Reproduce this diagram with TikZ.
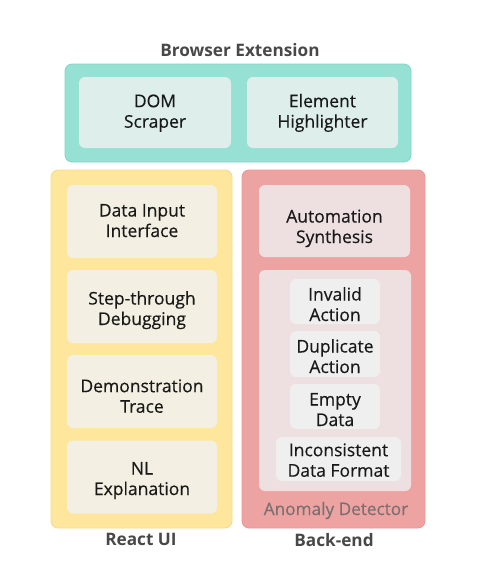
\documentclass[tikz,border=0pt]{standalone}
\usepackage{fontspec}
\setmainfont{Open Sans}
\newfontfamily\boxfont{Open Sans}[FakeBold=0.35]
\usepackage{tikz}

\definecolor{tealbg}{HTML}{96E1D4}
\definecolor{tealline}{HTML}{7FD8C6}
\definecolor{tealbox}{HTML}{DDEEEB}
\definecolor{yellowbg}{HTML}{FEE69D}
\definecolor{yellowline}{HTML}{F9D98A}
\definecolor{yellowbox}{HTML}{F3EFE2}
\definecolor{redbg}{HTML}{EEA3A3}
\definecolor{redline}{HTML}{E89898}
\definecolor{redbox}{HTML}{EEE0E0}
\definecolor{greybox}{HTML}{EFEFEF}
\definecolor{titlegrey}{HTML}{484848}
\definecolor{labelgrey}{HTML}{7A7070}

\tikzset{
    group/.style={draw, line width=0.8pt, rounded corners=7pt, inner sep=0pt},
    item/.style={rounded corners=6pt, inner sep=0pt},
    txt/.style={anchor=base, align=center, inner sep=0pt, text=black!90,
        font=\boxfont\fontsize{17.5}{20.5}\selectfont},
    title/.style={anchor=base, text=titlegrey, font=\fontsize{17.2}{20}\selectfont\bfseries}
}

\begin{document}
\begin{tikzpicture}[x=1pt, y=-1pt]
    \useasboundingbox (0,0) rectangle (480,568);

    % Extensio del navegador
    \node[title] (extTitle) at (240,56) {Browser Extension};
    \node[group, draw=tealline, fill=tealbg, minimum width=346pt, minimum height=98pt] (ext) at (238,113) {};
    \node[item, fill=tealbox, minimum width=152pt, minimum height=71pt] (dom) at (155,112.5) {};
    \node[txt] (domText) at (155,127.7) {DOM\\Scraper};
    \node[item, fill=tealbox, minimum width=151pt, minimum height=71pt] (hl) at (322.5,112.5) {};
    \node[txt] (hlText) at (322.5,127.7) {Element\\Highlighter};

    % Interficie React
    \node[group, draw=yellowline, fill=yellowbg, minimum width=181pt, minimum height=358pt] (ui) at (141.5,349) {};
    \node[item, fill=yellowbox, minimum width=150pt, minimum height=73pt] (input) at (142,221.5) {};
    \node[txt] (inputText) at (142,237) {Data Input\\Interface};
    \node[item, fill=yellowbox, minimum width=150pt, minimum height=73pt] (debug) at (142,306.5) {};
    \node[txt] (debugText) at (142,325) {Step-through\\Debugging};
    \node[item, fill=yellowbox, minimum width=150pt, minimum height=73pt] (trace) at (142,391.5) {};
    \node[txt] (traceText) at (142,412.7) {Demonstration\\Trace};
    \node[item, fill=yellowbox, minimum width=150pt, minimum height=73pt] (nlexp) at (142,477) {};
    \node[txt] (nlexpText) at (142,495) {NL\\Explanation};
    \node[title] (uiTitle) at (141,545.7) {React UI};

    % Servidor
    \node[group, draw=redline, fill=redbg, minimum width=183pt, minimum height=358pt] (back) at (333.5,349) {};
    \node[item, fill=redbox, minimum width=151pt, minimum height=72pt] (synth) at (334.5,221) {};
    \node[txt] (synthText) at (334.5,243) {Automation\\Synthesis};
    \node[item, fill=redbox, minimum width=152pt, minimum height=221pt] (anomaly) at (335,380.5) {};
    \node[item, fill=greybox, minimum width=90pt, minimum height=45pt] (invalid) at (335,301.5) {};
    \node[txt] (invalidText) at (335,321) {Invalid\\Action};
    \node[item, fill=greybox, minimum width=90pt, minimum height=46pt] (dup) at (335,354) {};
    \node[txt] (dupText) at (335,373) {Duplicate\\Action};
    \node[item, fill=greybox, minimum width=90pt, minimum height=45pt] (empty) at (335,406.5) {};
    \node[txt] (emptyText) at (335,426) {Empty\\Data};
    \node[item, fill=greybox, minimum width=125pt, minimum height=44pt] (format) at (338.5,459) {};
    \node[txt] (formatText) at (338.5,476.7) {Inconsistent\\Data Format};
    \node[anchor=base, text=labelgrey, font=\boxfont\fontsize{17.2}{20}\selectfont] (anomalyTitle) at (336,515) {Anomaly Detector};
    \node[title] (backTitle) at (334,546) {Back-end};
\end{tikzpicture}
\end{document}
